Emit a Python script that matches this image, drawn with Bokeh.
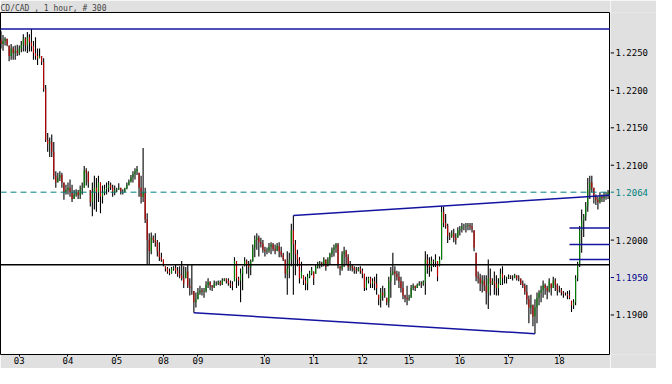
from bokeh.plotting import figure
from bokeh.layouts import row
from bokeh.models import FixedTicker, Span, Range1d, ColumnDataSource
from bokeh.core.properties import value
from bokeh.embed import file_html
from bokeh.resources import INLINE

# ---- hourly USD/CAD bars ----
high = [
    1.2279, 1.2274, 1.2271, 1.2269, 1.2260, 1.2262, 1.2259, 1.2260, 1.2261, 1.2260,
    1.2266, 1.2275, 1.2271, 1.2278, 1.2275, 1.2282, 1.2266, 1.2271, 1.2256, 1.2256,
    1.2246, 1.2243, 1.2207, 1.2143, 1.2137, 1.2141, 1.2131, 1.2092, 1.2090, 1.2092,
    1.2090, 1.2077, 1.2074, 1.2077, 1.2081, 1.2074, 1.2067, 1.2068, 1.2067, 1.2073,
    1.2077, 1.2099, 1.2096, 1.2092, 1.2067, 1.2077, 1.2086, 1.2083, 1.2086, 1.2077,
    1.2073, 1.2074, 1.2077, 1.2079, 1.2077, 1.2074, 1.2073, 1.2070, 1.2076, 1.2070,
    1.2068, 1.2070, 1.2077, 1.2081, 1.2087, 1.2092, 1.2096, 1.2099, 1.2090, 1.2086,
    1.2123, 1.2070, 1.2036, 1.2009, 1.2010, 1.2006, 1.2009, 1.2000, 1.1997, 1.1983,
    1.1974, 1.1965, 1.1964, 1.1962, 1.1964, 1.1965, 1.1968, 1.1964, 1.1965, 1.1972,
    1.1965, 1.1964, 1.1968, 1.1949, 1.1968, 1.1932, 1.1930, 1.1936, 1.1939, 1.1936,
    1.1936, 1.1945, 1.1949, 1.1945, 1.1940, 1.1946, 1.1945, 1.1946, 1.1946, 1.1949,
    1.1949, 1.1949, 1.1949, 1.1946, 1.1945, 1.1977, 1.1972, 1.1951, 1.1962, 1.1965,
    1.1977, 1.1974, 1.1972, 1.1974, 1.1994, 1.2006, 1.2009, 1.2006, 1.2003, 1.2000,
    1.1991, 1.1990, 1.1996, 1.1997, 1.1996, 1.1994, 1.1996, 1.1997, 1.1991, 1.1983,
    1.1974, 1.1985, 1.1983, 1.2022, 1.2033, 1.2000, 1.1987, 1.1977, 1.1971, 1.1953,
    1.1951, 1.1955, 1.1959, 1.1964, 1.1958, 1.1968, 1.1971, 1.1972, 1.1971, 1.1977,
    1.1974, 1.1977, 1.1983, 1.1990, 1.1994, 1.1996, 1.1996, 1.1965, 1.1985, 1.1991,
    1.1987, 1.1981, 1.1972, 1.1968, 1.1965, 1.1964, 1.1964, 1.1965, 1.1962, 1.1955,
    1.1951, 1.1951, 1.1951, 1.1949, 1.1951, 1.1955, 1.1927, 1.1936, 1.1939, 1.1936,
    1.1923, 1.1951, 1.1964, 1.1983, 1.1965, 1.1959, 1.1958, 1.1951, 1.1945, 1.1927,
    1.1939, 1.1927, 1.1940, 1.1942, 1.1939, 1.1942, 1.1945, 1.1945, 1.1946, 1.1985,
    1.1981, 1.1977, 1.1978, 1.1974, 1.1981, 1.1972, 1.1978, 1.2045, 1.2045, 1.2035,
    1.2022, 1.2010, 1.2013, 1.2015, 1.2009, 1.2017, 1.2019, 1.2023, 1.2022, 1.2023,
    1.2023, 1.2023, 1.2023, 1.2013, 1.1983, 1.1958, 1.1955, 1.1953, 1.1953, 1.1953,
    1.1974, 1.1962, 1.1949, 1.1958, 1.1953, 1.1949, 1.1962, 1.1965, 1.1953, 1.1951,
    1.1954, 1.1953, 1.1953, 1.1955, 1.1953, 1.1953, 1.1949, 1.1946, 1.1942, 1.1940,
    1.1926, 1.1927, 1.1914, 1.1921, 1.1930, 1.1933, 1.1939, 1.1946, 1.1942, 1.1939,
    1.1949, 1.1942, 1.1951, 1.1949, 1.1942, 1.1939, 1.1936, 1.1932, 1.1930, 1.1932,
    1.1933, 1.1919, 1.1921, 1.1953, 1.1971, 1.2019, 1.2041, 1.2035, 1.2051, 1.2083,
    1.2086, 1.2086, 1.2070, 1.2061, 1.2058, 1.2064, 1.2061, 1.2064, 1.2064, 1.2067,
]
low = [
    1.2256, 1.2253, 1.2260, 1.2259, 1.2239, 1.2241, 1.2241, 1.2241, 1.2246, 1.2247,
    1.2251, 1.2252, 1.2252, 1.2250, 1.2252, 1.2252, 1.2241, 1.2241, 1.2234, 1.2243,
    1.2234, 1.2198, 1.2131, 1.2118, 1.2111, 1.2111, 1.2081, 1.2070, 1.2077, 1.2079,
    1.2070, 1.2054, 1.2061, 1.2061, 1.2058, 1.2051, 1.2055, 1.2058, 1.2055, 1.2055,
    1.2061, 1.2070, 1.2073, 1.2070, 1.2045, 1.2032, 1.2041, 1.2038, 1.2051, 1.2036,
    1.2049, 1.2060, 1.2061, 1.2064, 1.2067, 1.2058, 1.2060, 1.2064, 1.2067, 1.2061,
    1.2061, 1.2064, 1.2068, 1.2073, 1.2077, 1.2077, 1.2081, 1.2087, 1.2058, 1.2049,
    1.2051, 1.2023, 1.1968, 1.1968, 1.1981, 1.1996, 1.1991, 1.1978, 1.1972, 1.1971,
    1.1965, 1.1958, 1.1955, 1.1953, 1.1955, 1.1959, 1.1955, 1.1951, 1.1949, 1.1946,
    1.1936, 1.1949, 1.1936, 1.1926, 1.1927, 1.1903, 1.1910, 1.1921, 1.1927, 1.1926,
    1.1923, 1.1930, 1.1936, 1.1933, 1.1932, 1.1936, 1.1939, 1.1940, 1.1939, 1.1940,
    1.1945, 1.1942, 1.1939, 1.1936, 1.1933, 1.1945, 1.1936, 1.1939, 1.1917, 1.1933,
    1.1965, 1.1955, 1.1949, 1.1953, 1.1971, 1.1977, 1.1987, 1.1978, 1.1990, 1.1983,
    1.1978, 1.1981, 1.1983, 1.1981, 1.1985, 1.1981, 1.1985, 1.1977, 1.1977, 1.1972,
    1.1949, 1.1927, 1.1949, 1.1965, 1.1927, 1.1953, 1.1965, 1.1942, 1.1949, 1.1940,
    1.1933, 1.1933, 1.1949, 1.1953, 1.1940, 1.1955, 1.1962, 1.1962, 1.1964, 1.1965,
    1.1959, 1.1965, 1.1968, 1.1977, 1.1978, 1.1983, 1.1962, 1.1953, 1.1959, 1.1964,
    1.1968, 1.1959, 1.1959, 1.1958, 1.1955, 1.1955, 1.1958, 1.1955, 1.1949, 1.1932,
    1.1933, 1.1942, 1.1936, 1.1936, 1.1933, 1.1927, 1.1913, 1.1910, 1.1919, 1.1923,
    1.1913, 1.1910, 1.1923, 1.1953, 1.1940, 1.1946, 1.1936, 1.1930, 1.1921, 1.1917,
    1.1913, 1.1919, 1.1923, 1.1933, 1.1932, 1.1936, 1.1939, 1.1936, 1.1939, 1.1927,
    1.1955, 1.1951, 1.1958, 1.1964, 1.1964, 1.1945, 1.1965, 1.1974, 1.2017, 1.2015,
    1.1996, 1.2000, 1.2003, 1.1997, 1.1994, 1.2003, 1.2006, 1.2010, 1.2013, 1.2010,
    1.2013, 1.2013, 1.2010, 1.1985, 1.1945, 1.1942, 1.1932, 1.1930, 1.1932, 1.1914,
    1.1908, 1.1926, 1.1940, 1.1927, 1.1926, 1.1926, 1.1940, 1.1940, 1.1942, 1.1942,
    1.1948, 1.1948, 1.1946, 1.1949, 1.1946, 1.1945, 1.1940, 1.1936, 1.1927, 1.1914,
    1.1889, 1.1901, 1.1885, 1.1875, 1.1889, 1.1913, 1.1917, 1.1923, 1.1927, 1.1921,
    1.1930, 1.1926, 1.1936, 1.1932, 1.1926, 1.1930, 1.1926, 1.1923, 1.1926, 1.1921,
    1.1921, 1.1904, 1.1908, 1.1913, 1.1945, 1.1964, 1.1983, 1.2004, 1.2026, 1.2038,
    1.2055, 1.2064, 1.2049, 1.2047, 1.2041, 1.2049, 1.2051, 1.2051, 1.2054, 1.2055,
]
close = [
    1.2262, 1.2266, 1.2269, 1.2261, 1.2246, 1.2256, 1.2250, 1.2253, 1.2250, 1.2256,
    1.2261, 1.2269, 1.2260, 1.2271, 1.2264, 1.2259, 1.2250, 1.2246, 1.2243, 1.2246,
    1.2238, 1.2202, 1.2134, 1.2128, 1.2131, 1.2118, 1.2086, 1.2077, 1.2083, 1.2087,
    1.2077, 1.2064, 1.2067, 1.2070, 1.2064, 1.2055, 1.2061, 1.2064, 1.2060, 1.2068,
    1.2070, 1.2093, 1.2090, 1.2077, 1.2051, 1.2064, 1.2070, 1.2064, 1.2077, 1.2058,
    1.2064, 1.2068, 1.2070, 1.2074, 1.2070, 1.2064, 1.2067, 1.2068, 1.2070, 1.2065,
    1.2065, 1.2069, 1.2074, 1.2078, 1.2084, 1.2088, 1.2092, 1.2095, 1.2070, 1.2058,
    1.2064, 1.2028, 1.2000, 1.1985, 1.2003, 1.2000, 1.1997, 1.1985, 1.1977, 1.1974,
    1.1968, 1.1962, 1.1958, 1.1956, 1.1962, 1.1963, 1.1959, 1.1955, 1.1953, 1.1949,
    1.1942, 1.1958, 1.1939, 1.1936, 1.1936, 1.1917, 1.1921, 1.1930, 1.1933, 1.1931,
    1.1932, 1.1940, 1.1944, 1.1939, 1.1937, 1.1942, 1.1942, 1.1944, 1.1941, 1.1946,
    1.1948, 1.1946, 1.1942, 1.1940, 1.1939, 1.1972, 1.1949, 1.1946, 1.1955, 1.1962,
    1.1972, 1.1968, 1.1964, 1.1972, 1.1990, 1.2000, 1.2003, 1.1997, 1.1995, 1.1987,
    1.1985, 1.1986, 1.1991, 1.1994, 1.1988, 1.1986, 1.1992, 1.1985, 1.1980, 1.1974,
    1.1955, 1.1962, 1.1974, 1.2013, 1.1994, 1.1981, 1.1974, 1.1949, 1.1958, 1.1946,
    1.1942, 1.1951, 1.1955, 1.1960, 1.1949, 1.1964, 1.1967, 1.1969, 1.1968, 1.1974,
    1.1964, 1.1974, 1.1981, 1.1987, 1.1990, 1.1994, 1.1968, 1.1962, 1.1981, 1.1985,
    1.1977, 1.1964, 1.1965, 1.1963, 1.1960, 1.1959, 1.1962, 1.1959, 1.1955, 1.1936,
    1.1946, 1.1949, 1.1942, 1.1945, 1.1942, 1.1936, 1.1921, 1.1930, 1.1926, 1.1930,
    1.1917, 1.1945, 1.1955, 1.1958, 1.1955, 1.1951, 1.1945, 1.1936, 1.1926, 1.1923,
    1.1921, 1.1923, 1.1936, 1.1939, 1.1936, 1.1940, 1.1942, 1.1941, 1.1944, 1.1974,
    1.1968, 1.1964, 1.1972, 1.1971, 1.1974, 1.1951, 1.1974, 1.2038, 1.2023, 1.2019,
    1.2006, 1.2005, 1.2009, 1.2003, 1.2000, 1.2013, 1.2015, 1.2018, 1.2018, 1.2019,
    1.2020, 1.2018, 1.2015, 1.1990, 1.1951, 1.1949, 1.1942, 1.1946, 1.1939, 1.1930,
    1.1949, 1.1942, 1.1945, 1.1942, 1.1936, 1.1942, 1.1955, 1.1949, 1.1949, 1.1950,
    1.1951, 1.1950, 1.1950, 1.1953, 1.1949, 1.1948, 1.1942, 1.1939, 1.1931, 1.1921,
    1.1910, 1.1913, 1.1898, 1.1910, 1.1923, 1.1930, 1.1933, 1.1940, 1.1936, 1.1932,
    1.1945, 1.1936, 1.1946, 1.1940, 1.1933, 1.1933, 1.1930, 1.1928, 1.1928, 1.1926,
    1.1923, 1.1913, 1.1917, 1.1949, 1.1967, 1.2013, 1.2026, 1.2032, 1.2045, 1.2067,
    1.2077, 1.2070, 1.2058, 1.2054, 1.2051, 1.2058, 1.2056, 1.2059, 1.2060, 1.2064,
]
first_open = 1.2268

# ---- axis labels ----
day_ticks = [9, 33, 57, 80, 97, 130, 154, 178, 201, 226, 250, 275]
day_labels = ["03", "04", "05", "08", "09", "10", "11", "12", "15", "16", "17", "18"]
price_ticks = [1.1900, 1.1950, 1.2000, 1.2064, 1.2100, 1.2150, 1.2200, 1.2250]
price_tick_colors = ["black", "#00008b", "black", "#008080", "black", "black", "black", "black"]
title_text = "CD/CAD , 1 hour, # 300"

# ---- drawn study lines ----
top_level = 1.2282
support_level = 1.1967
last_price = 1.2064
upper_channel_x = [144, 301]
upper_channel_y = [1.2033, 1.2060]
lower_channel_x = [95, 263]
lower_channel_y = [1.1903, 1.1875]
short_levels = [1.2016, 1.1994, 1.1974]
short_levels_start = 280
short_levels_end = 301

idx = list(range(len(close)))
opens = []
prev = first_open
for h, l, c in zip(high, low, close):
    opens.append(min(max(prev, l), h))
    prev = c
body_colors = ["#008000" if c >= o else "#c00000" for o, c in zip(opens, close)]
src = ColumnDataSource(dict(x=idx, high=high, low=low, open=opens, close=close, color=body_colors))

MONO = "DejaVu Sans Mono"
NAVY = "#1414a0"
PANEL = "#e0e0e0"

price_range = Range1d(1.18472, 1.23040)

# main price pane
p = figure(width=610, height=368, output_backend="svg", toolbar_location=None,
           x_range=Range1d(-0.24, 300.2), y_range=price_range,
           y_axis_location=None, min_border_left=0, min_border_right=0,
           min_border_top=12, min_border_bottom=14, title=title_text)
p.title.text_font = MONO
p.title.text_font_size = "8px"
p.title.text_font_style = "normal"
p.title.standoff = 0
p.title.offset = 0
p.title.align = "left"
p.background_fill_color = "white"
p.border_fill_color = PANEL
p.outline_line_color = "black"
p.outline_line_width = 1
p.grid.visible = False

xa = p.xaxis[0]
xa.ticker = FixedTicker(ticks=day_ticks)
xa.major_label_overrides = dict(zip(day_ticks, day_labels))
xa.major_tick_in = 0
xa.major_tick_out = 2
xa.minor_tick_out = 0
xa.minor_tick_in = 0
xa.major_label_standoff = 0
xa.axis_line_color = None
xa.major_label_text_font = MONO
xa.major_label_text_font_size = "9px"
xa.major_label_text_color = "black"

p.add_layout(Span(location=top_level, dimension="width", line_color=NAVY, line_width=1.5))
p.add_layout(Span(location=support_level, dimension="width", line_color="black", line_width=1.5))
p.add_layout(Span(location=last_price, dimension="width", line_color="#008080",
                  line_width=1, line_dash="6 4"))

p.segment(x0="x", y0="low", x1="x", y1="high", source=src, line_color="black", line_width=1.1)
p.segment(x0="x", y0="open", x1="x", y1="close", source=src, line_color="color", line_width=1.1)

p.line(upper_channel_x, upper_channel_y, line_color=NAVY, line_width=1.5)
p.line(lower_channel_x, lower_channel_y, line_color=NAVY, line_width=1.5)
p.segment(x0=[short_levels_start] * len(short_levels), x1=[short_levels_end] * len(short_levels),
          y0=short_levels, y1=short_levels, line_color=NAVY, line_width=1.5)

# price scale pane: shares the price range, so its frame lines up with the main pane
q = figure(width=46, height=368, output_backend="svg", toolbar_location=None,
           x_range=Range1d(0, 46), y_range=price_range,
           x_axis_location=None, y_axis_location=None,
           min_border_left=0, min_border_right=0, min_border_top=12, min_border_bottom=14)
q.background_fill_color = PANEL
q.border_fill_color = PANEL
q.outline_line_color = None
q.grid.visible = False

tick_src = ColumnDataSource(dict(y=price_ticks, label=["%.4f" % t for t in price_ticks],
                                 color=price_tick_colors))
q.segment(x0=0, x1=3.5, y0="y", y1="y", source=tick_src, line_color="color", line_width=1)
q.text(x=5, y="y", text="label", source=tick_src, text_color="color",
       text_font=value(MONO), text_font_size=value("9px"), text_baseline="middle",
       text_align="left")

open("out.html", "w").write(file_html(row(p, q), INLINE))
